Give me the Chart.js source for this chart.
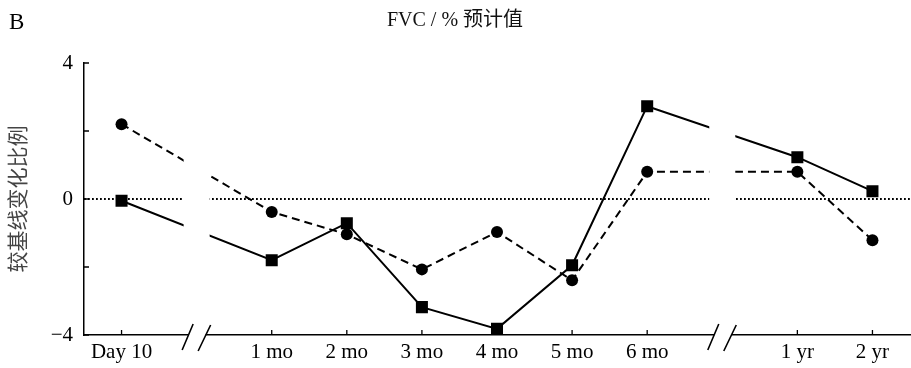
<!DOCTYPE html>
<html>
<head>
<meta charset="utf-8">
<script src="https://cdn.jsdelivr.net/npm/chart.js@4.4.0/dist/chart.umd.min.js"></script>
<style>
  html, body { margin: 0; padding: 0; background: #fff; }
  #wrap { width: 911px; height: 368px; }
</style>
</head>
<body>
<div id="wrap"><canvas id="fvc"></canvas></div>
<script>
// empty labels are the axis breaks (//)
const categories = ['Day 10', '', '1 mo', '2 mo', '3 mo', '4 mo', '5 mo', '6 mo', '', '1 yr', '2 yr'];
const circleSeries = [2.2, null, -0.38, -1.04, -2.07, -0.97, -2.39, 0.8, null, 0.8, -1.21];
const squareSeries = [-0.05, null, -1.8, -0.71, -3.18, -3.82, -1.95, 2.73, null, 1.23, 0.23];
const yTicks = [-4, -2, 0, 2, 4];
const titleText = 'FVC / % 预计值';
const yTitle = '较基线变化比例';
const panelLetter = 'B';

Chart.defaults.font.family = "'Liberation Serif', 'Noto Sans CJK SC', serif";
Chart.defaults.font.size = 21;
Chart.defaults.color = '#000';

const breaksPlugin = {
  id: 'breaks',
  beforeDatasetsDraw(chart) {
    const { ctx, chartArea, scales: { y } } = chart;
    const y0 = y.getPixelForValue(0);
    ctx.save();
    ctx.strokeStyle = '#000';
    ctx.lineWidth = 1.8;
    ctx.setLineDash([1.8, 2.2]);
    ctx.beginPath();
    ctx.moveTo(chartArea.left, y0);
    ctx.lineTo(chartArea.right, y0);
    ctx.stroke();
    ctx.restore();
  },
  afterDatasetsDraw(chart) {
    const { ctx, chartArea, scales: { x, y } } = chart;
    const bottom = chartArea.bottom;
    ctx.save();
    // cut the lines and the axis at the breaks
    ctx.fillStyle = '#fff';
    categories.forEach((label, i) => {
      if (label) return;
      const cx = x.getPixelForValue(i);
      ctx.fillRect(cx - 13, chartArea.top - 20, 26, bottom - chartArea.top + 17);
      ctx.fillRect(cx - 8, bottom - 3, 17, 6);
    });
    // inward tick marks
    ctx.strokeStyle = '#000';
    ctx.lineWidth = 1.3;
    ctx.beginPath();
    categories.forEach((label, i) => {
      if (!label) return;
      const px = x.getPixelForValue(i);
      ctx.moveTo(px, bottom);
      ctx.lineTo(px, bottom - 5);
    });
    yTicks.forEach(v => {
      const py = y.getPixelForValue(v);
      ctx.moveTo(chartArea.left, py);
      ctx.lineTo(chartArea.left + 5, py);
    });
    ctx.stroke();
    // the // marks
    ctx.lineWidth = 1.6;
    ctx.beginPath();
    categories.forEach((label, i) => {
      if (label) return;
      const cx = x.getPixelForValue(i);
      ctx.moveTo(cx - 14.5, bottom + 15);
      ctx.lineTo(cx - 3.5, bottom - 11);
      ctx.moveTo(cx + 1.5, bottom + 16);
      ctx.lineTo(cx + 14, bottom - 10);
    });
    ctx.stroke();
    ctx.restore();
  },
  afterDraw(chart) {
    const { ctx } = chart;
    ctx.save();
    ctx.fillStyle = '#000';
    ctx.font = "23px 'Liberation Serif', serif";
    ctx.textBaseline = 'alphabetic';
    ctx.fillText(panelLetter, 9, 29);
    ctx.restore();
  }
};

new Chart(document.getElementById('fvc'), {
  type: 'line',
  data: {
    labels: categories,
    datasets: [{
      label: 'circle',
      data: circleSeries,
      borderColor: '#000',
      backgroundColor: '#000',
      borderWidth: 2,
      borderDash: [8, 5],
      pointStyle: 'circle',
      pointRadius: 6,
      pointBorderWidth: 0,
      spanGaps: true,
      tension: 0
    }, {
      label: 'square',
      data: squareSeries,
      borderColor: '#000',
      backgroundColor: '#000',
      borderWidth: 2,
      pointStyle: 'rect',
      pointRadius: 8.5,
      pointBorderWidth: 0,
      spanGaps: true,
      tension: 0
    }]
  },
  options: {
    responsive: true,
    maintainAspectRatio: false,
    animation: false,
    layout: { autoPadding: false, padding: { left: 0, right: 1, top: 0, bottom: 0 } },
    plugins: {
      legend: { display: false },
      tooltip: { enabled: false },
      title: {
        display: true,
        text: titleText,
        color: '#111',
        font: { size: 20, weight: 'normal' },
        padding: { top: 9, bottom: 30 }
      }
    },
    scales: {
      x: {
        type: 'category',
        offset: true,
        grid: { display: false, drawTicks: false },
        border: { display: true, color: '#000', width: 1.5 },
        ticks: { autoSkip: false, maxRotation: 0, padding: 5, color: '#000' },
        afterFit(scale) {
          scale.height = 33;
          scale.paddingLeft = 0;
          scale.paddingRight = 0;
        }
      },
      y: {
        min: -4,
        max: 4,
        grid: { display: false, drawTicks: false },
        border: { display: true, color: '#000', width: 1.5 },
        afterBuildTicks(scale) { scale.ticks = yTicks.map(v => ({ value: v })); },
        ticks: {
          padding: 11,
          color: '#000',
          callback(value) {
            if (value % 4 !== 0) return '';
            return String(value).replace('-', '\u2212');
          }
        },
        title: {
          display: true,
          text: yTitle,
          color: '#444',
          font: { size: 21 },
          padding: { top: 7, bottom: 0 }
        },
        afterFit(scale) {
          scale.width = 84;
          scale.paddingTop = 0;
          scale.paddingBottom = 0;
        }
      }
    }
  },
  plugins: [breaksPlugin]
});
</script>
</body>
</html>
